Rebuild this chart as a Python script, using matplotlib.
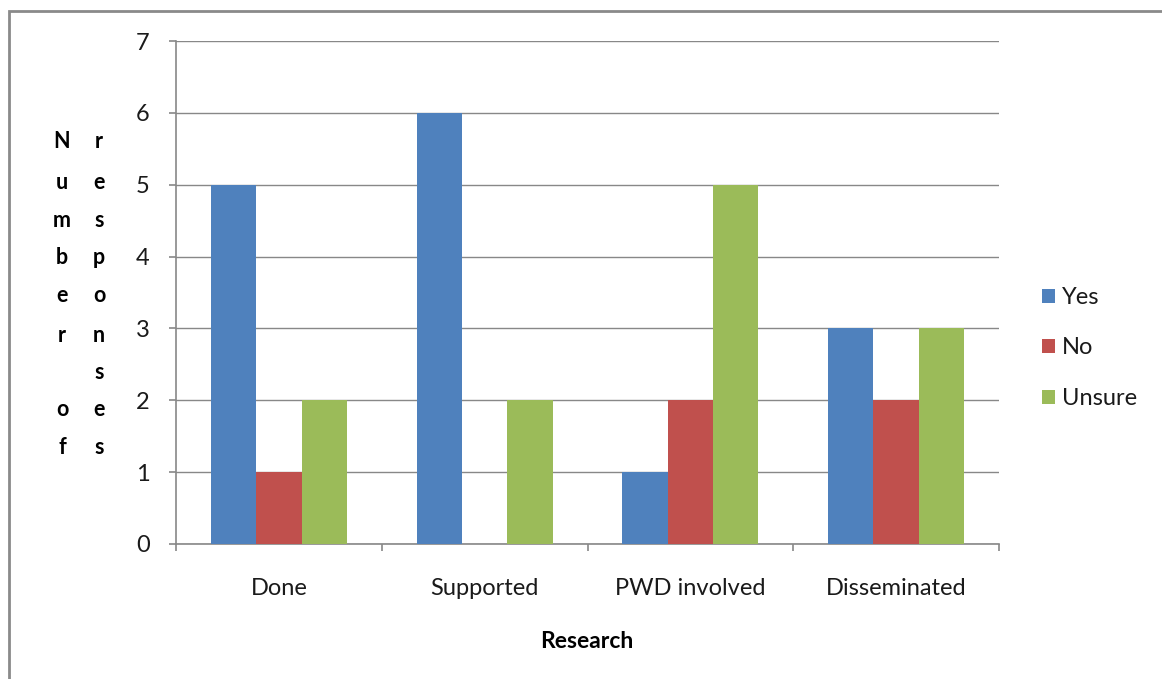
import matplotlib
matplotlib.use("Agg")
import matplotlib.pyplot as plt
from matplotlib.patches import Rectangle, Patch
import numpy as np

categories = ["Done", "Supported", "PWD involved", "Disseminated"]
series_names = ["Yes", "No", "Unsure"]
yes_vals = [5, 6, 1, 3]
no_vals = [1, 0, 2, 2]
unsure_vals = [2, 2, 5, 3]
y_ticks = [0, 1, 2, 3, 4, 5, 6, 7]

colors = ["#4F81BD", "#C0504D", "#9BBB59"]
grid_col = "#888888"
text_col = "#1a1a1a"

plt.rcParams["font.family"] = ["Lato", "DejaVu Sans"]

W, H = 1162, 679
fig = plt.figure(figsize=(W / 100, H / 100), dpi=100)
ax = fig.add_axes([176 / W, 1 - 544 / H, (999 - 176) / W, (544 - 41) / H])

x = np.arange(len(categories))
bw = 0.22
for i, (vals, c) in enumerate(zip([yes_vals, no_vals, unsure_vals], colors)):
    ax.bar(x + (i - 1) * bw, vals, width=bw, color=c, zorder=3, linewidth=0)

ax.set_xlim(-0.5, len(categories) - 0.5)
ax.set_ylim(0, 7)
ax.set_yticks(y_ticks)
ax.yaxis.grid(True, color=grid_col, linewidth=1.0, zorder=0)
ax.set_axisbelow(True)

for s in ["top", "right"]:
    ax.spines[s].set_visible(False)
for s in ["left", "bottom"]:
    ax.spines[s].set_color(grid_col)
    ax.spines[s].set_linewidth(1.2)

fs = 17
ax.set_xticks(x)
ax.set_xticklabels(categories)
ax.set_xticks(np.arange(-0.5, len(categories), 1.0), minor=True)
ax.tick_params(axis="x", which="major", length=0, pad=24.5, labelsize=fs, labelcolor=text_col)
ax.tick_params(axis="x", which="minor", length=5, width=1.2, color=grid_col, direction="out")
ax.tick_params(axis="y", length=5, width=1.2, color=grid_col, direction="out", pad=14,
               labelsize=fs, labelcolor=text_col)

# x-axis title
fig.text(587 / W, 1 - 641 / H, "Research", ha="center", va="center",
         fontsize=16.5, fontweight="bold", color="black")

# y-axis title stacked letter by letter in two columns
col1 = ["N", "u", "m", "b", "e", "r", "", "o", "f"]
col2 = ["r", "e", "s", "p", "o", "n", "s", "e", "s"]
rows_y = [142, 183, 221, 258, 296, 335, 372, 410, 448]
for ch, yy in zip(col1, rows_y):
    fig.text(62 / W, 1 - yy / H, ch, ha="center", va="center",
             fontsize=15.5, fontweight="bold", color="black")
for ch, yy in zip(col2, rows_y):
    fig.text(99 / W, 1 - yy / H, ch, ha="center", va="center",
             fontsize=15.5, fontweight="bold", color="black")

# legend
handles = [Patch(facecolor=c, edgecolor="none") for c in colors]
leg = fig.legend(handles, series_names, loc="center left",
                 bbox_to_anchor=(1030 / W, 1 - 348 / H), frameon=False,
                 fontsize=fs, handlelength=0.55, handleheight=0.55,
                 handletextpad=0.3, labelspacing=1.25, borderpad=0)
for t in leg.get_texts():
    t.set_color(text_col)

# outer chart frame
fig.patches.append(Rectangle((9 / W, -0.2), 1.5, 1.2 - 11 / H, transform=fig.transFigure,
                             fill=False, edgecolor="#8a8a8a", linewidth=2.0, clip_on=False))

fig.savefig("out.png", dpi=100)
